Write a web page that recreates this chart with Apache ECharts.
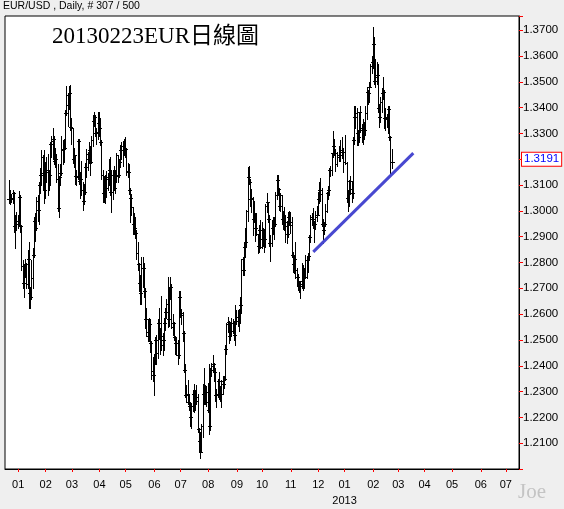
<!DOCTYPE html>
<html><head><meta charset="utf-8">
<script src="https://cdn.jsdelivr.net/npm/echarts@6/dist/echarts.min.js"></script>
<style>html,body{margin:0;padding:0;background:#efefef;}#c{width:564px;height:509px;}</style>
</head><body><div id="c"></div>
<script>
// ---- axis / labels ----
const axisStart = '2011-12-19', axisEnd = '2013-07-15', firstBar = '2011-12-22';
const yMin = 1.20, yMax = 1.3755, yStep = 0.01;
const headerText = 'EUR/USD , Daily, # 307 / 500';
const titleText = '20130223EUR日線圖';
const lastPrice = 1.3191;
const trendLine = [['2012-11-27', 1.2841], ['2013-03-19', 1.3224]];

// ---- daily OHLC [open, high, low, close], weekdays in order, null = no bar ----
const d2011_12 = [[1.3045,1.3118,1.3030,1.3047],[1.3047,1.3080,1.3025,1.3045],[1.3045,1.3065,1.3035,1.3050],[1.3050,1.3080,1.3030,1.3070],[1.3070,1.3075,1.2920,1.2940],[1.2940,1.2985,1.2858,1.2950],[1.2950,1.2995,1.2925,1.2960]];
const d2012_01 = [[1.2960,1.2985,1.2935,1.2950],[1.2950,1.3077,1.2945,1.3055],[1.3055,1.3060,1.2920,1.2940],[1.2940,1.2945,1.2770,1.2785],[1.2785,1.2810,1.2700,1.2720],[1.2720,1.2795,1.2665,1.2765],[1.2765,1.2815,1.2745,1.2795],[1.2795,1.2800,1.2700,1.2715],[1.2715,1.2850,1.2700,1.2815],[1.2815,1.2880,1.2624,1.2680],[1.2680,1.2705,1.2625,1.2665],[1.2665,1.2810,1.2660,1.2740],[1.2740,1.2855,1.2700,1.2830],[1.2830,1.2975,1.2820,1.2960],[1.2960,1.2990,1.2885,1.2935],[1.2935,1.3055,1.2925,1.3040],[1.3040,1.3060,1.2960,1.3005],[1.3005,1.3110,1.2950,1.3100],[1.3100,1.3165,1.3070,1.3140],[1.3140,1.3235,1.3100,1.3210],[1.3210,1.3215,1.3080,1.3145],[1.3145,1.3235,1.3030,1.3080]];
const d2012_02 = [[1.3080,1.3190,1.3050,1.3160],[1.3160,1.3210,1.3110,1.3150],[1.3150,1.3220,1.3060,1.3150],[1.3150,1.3160,1.3080,1.3140],[1.3140,1.3265,1.3100,1.3260],[1.3260,1.3290,1.3210,1.3270],[1.3270,1.3320,1.3200,1.3280],[1.3280,1.3290,1.3180,1.3195],[1.3195,1.3245,1.3170,1.3200],[1.3200,1.3220,1.3110,1.3125],[1.3125,1.3180,1.3000,1.3010],[1.3010,1.3135,1.2975,1.3130],[1.3130,1.3180,1.3100,1.3145],[1.3145,1.3290,1.3140,1.3235],[1.3235,1.3275,1.3180,1.3240],[1.3240,1.3280,1.3190,1.3245],[1.3245,1.3390,1.3240,1.3380],[1.3380,1.3485,1.3370,1.3450],[1.3450,1.3455,1.3330,1.3410],[1.3410,1.3485,1.3395,1.3455],[1.3455,1.3486,1.3315,1.3325]];
const d2012_03 = [[1.3325,1.3360,1.3260,1.3320],[1.3320,1.3320,1.3185,1.3200],[1.3200,1.3245,1.3170,1.3215],[1.3215,1.3215,1.3105,1.3135],[1.3135,1.3160,1.3100,1.3130],[1.3130,1.3280,1.3125,1.3270],[1.3270,1.3280,1.3105,1.3115],[1.3115,1.3150,1.3050,1.3125],[1.3125,1.3195,1.3060,1.3080],[1.3080,1.3110,1.3003,1.3040],[1.3040,1.3105,1.3025,1.3075],[1.3075,1.3185,1.3065,1.3170],[1.3170,1.3240,1.3130,1.3220],[1.3220,1.3230,1.3160,1.3200],[1.3200,1.3265,1.3185,1.3235],[1.3235,1.3250,1.3140,1.3190],[1.3190,1.3290,1.3185,1.3275],[1.3275,1.3370,1.3250,1.3350],[1.3350,1.3385,1.3330,1.3365],[1.3365,1.3370,1.3290,1.3300],[1.3300,1.3320,1.3260,1.3305],[1.3305,1.3385,1.3280,1.3340]];
const d2012_04 = [[1.3340,1.3385,1.3290,1.3320],[1.3320,1.3360,1.3255,1.3265],[1.3265,1.3275,1.3125,1.3140],[1.3140,1.3160,1.3035,1.3070],[1.3070,1.3135,1.3035,1.3100],[1.3100,1.3140,1.3030,1.3125],[1.3125,1.3155,1.3055,1.3090],[1.3090,1.3145,1.3080,1.3130],[1.3130,1.3200,1.3100,1.3160],[1.3160,1.3210,1.3060,1.3075],[1.3075,1.3160,1.2995,1.3140],[1.3140,1.3160,1.3045,1.3140],[1.3140,1.3175,1.3080,1.3090],[1.3090,1.3160,1.3070,1.3135],[1.3135,1.3225,1.3110,1.3215],[1.3215,1.3215,1.3110,1.3140],[1.3140,1.3200,1.3130,1.3190],[1.3190,1.3255,1.3170,1.3235],[1.3235,1.3265,1.3200,1.3250],[1.3250,1.3270,1.3175,1.3250],[1.3250,1.3280,1.3215,1.3240]];
const d2012_05 = [[1.3240,1.3285,1.3210,1.3240],[1.3240,1.3245,1.3140,1.3155],[1.3155,1.3185,1.3130,1.3150],[1.3150,1.3180,1.3065,1.3080],[1.3080,1.3090,1.2955,1.3050],[1.3050,1.3065,1.2985,1.3015],[1.3015,1.3015,1.2910,1.2950],[1.2950,1.2990,1.2910,1.2935],[1.2935,1.2975,1.2895,1.2915],[1.2915,1.2925,1.2815,1.2835],[1.2835,1.2880,1.2770,1.2795],[1.2795,1.2800,1.2690,1.2720],[1.2720,1.2750,1.2640,1.2680],[1.2680,1.2820,1.2640,1.2780],[1.2780,1.2820,1.2705,1.2780],[1.2780,1.2800,1.2665,1.2690],[1.2690,1.2700,1.2545,1.2580],[1.2580,1.2625,1.2515,1.2530],[1.2530,1.2580,1.2495,1.2515],[1.2515,1.2585,1.2495,1.2560],[1.2560,1.2580,1.2455,1.2490],[1.2490,1.2495,1.2350,1.2380],[1.2380,1.2435,1.2340,1.2365]];
const d2012_06 = [[1.2365,1.2445,1.2288,1.2430],[1.2430,1.2510,1.2405,1.2500],[1.2500,1.2520,1.2405,1.2450],[1.2450,1.2580,1.2430,1.2565],[1.2565,1.2625,1.2505,1.2525],[1.2525,1.2545,1.2445,1.2515],[1.2515,1.2670,1.2460,1.2480],[1.2480,1.2525,1.2440,1.2500],[1.2500,1.2585,1.2460,1.2565],[1.2565,1.2625,1.2540,1.2610],[1.2610,1.2660,1.2585,1.2640],[1.2640,1.2745,1.2550,1.2580],[1.2580,1.2700,1.2555,1.2685],[1.2685,1.2745,1.2660,1.2705],[1.2705,1.2715,1.2545,1.2550],[1.2550,1.2600,1.2520,1.2565],[1.2565,1.2570,1.2500,1.2510],[1.2510,1.2515,1.2445,1.2490],[1.2490,1.2510,1.2440,1.2490],[1.2490,1.2500,1.2405,1.2440],[1.2440,1.2690,1.2430,1.2665]];
const d2012_07 = [[1.2665,1.2690,1.2590,1.2595],[1.2595,1.2620,1.2560,1.2605],[1.2605,1.2610,1.2495,1.2525],[1.2525,1.2535,1.2375,1.2385],[1.2385,1.2405,1.2280,1.2285],[1.2285,1.2325,1.2260,1.2290],[1.2290,1.2345,1.2250,1.2260],[1.2260,1.2290,1.2230,1.2245],[1.2245,1.2260,1.2165,1.2200],[1.2200,1.2255,1.2160,1.2245],[1.2245,1.2305,1.2225,1.2290],[1.2290,1.2330,1.2220,1.2300],[1.2300,1.2305,1.2230,1.2265],[1.2265,1.2325,1.2250,1.2280],[1.2280,1.2290,1.2145,1.2155],[1.2155,1.2160,1.2065,1.2110],[1.2110,1.2145,1.2042,1.2065],[1.2065,1.2175,1.2065,1.2165],[1.2165,1.2330,1.2125,1.2290],[1.2290,1.2390,1.2250,1.2310],[1.2310,1.2325,1.2250,1.2260],[1.2260,1.2320,1.2245,1.2300]];
const d2012_08 = [[1.2300,1.2335,1.2220,1.2230],[1.2230,1.2405,1.2135,1.2165],[1.2165,1.2390,1.2150,1.2385],[1.2385,1.2410,1.2360,1.2400],[1.2400,1.2440,1.2375,1.2405],[1.2405,1.2410,1.2340,1.2375],[1.2375,1.2390,1.2265,1.2285],[1.2285,1.2310,1.2240,1.2290],[1.2290,1.2350,1.2280,1.2340],[1.2340,1.2375,1.2270,1.2280],[1.2280,1.2320,1.2265,1.2290],[1.2290,1.2345,1.2240,1.2340],[1.2340,1.2360,1.2290,1.2330],[1.2330,1.2360,1.2315,1.2350],[1.2350,1.2480,1.2345,1.2465],[1.2465,1.2565,1.2445,1.2560],[1.2560,1.2590,1.2530,1.2570],[1.2570,1.2575,1.2490,1.2515],[1.2515,1.2560,1.2500,1.2565],[1.2565,1.2585,1.2515,1.2565],[1.2565,1.2580,1.2525,1.2535],[1.2535,1.2570,1.2500,1.2520],[1.2520,1.2635,1.2480,1.2575]];
const d2012_09 = [[1.2575,1.2615,1.2560,1.2590],[1.2590,1.2615,1.2555,1.2575],[1.2575,1.2620,1.2535,1.2605],[1.2605,1.2665,1.2565,1.2635],[1.2635,1.2815,1.2610,1.2815],[1.2815,1.2820,1.2750,1.2770],[1.2770,1.2875,1.2750,1.2860],[1.2860,1.2935,1.2820,1.2880],[1.2880,1.3005,1.2860,1.3000],[1.3000,1.3170,1.2960,1.3130],[1.3130,1.3172,1.3105,1.3110],[1.3110,1.3125,1.3020,1.3045],[1.3045,1.3085,1.2995,1.3050],[1.3050,1.3055,1.2905,1.2970],[1.2970,1.3040,1.2955,1.2980],[1.2980,1.2990,1.2885,1.2935],[1.2935,1.2990,1.2905,1.2910],[1.2910,1.2910,1.2835,1.2865],[1.2865,1.2945,1.2840,1.2925],[1.2925,1.2965,1.2855,1.2860]];
const d2012_10 = [[1.2860,1.2955,1.2855,1.2890],[1.2890,1.2935,1.2865,1.2900],[1.2900,1.2930,1.2840,1.2890],[1.2890,1.3025,1.2860,1.3020],[1.3020,1.3070,1.2995,1.3035],[1.3035,1.3035,1.2955,1.2970],[1.2970,1.2985,1.2865,1.2875],[1.2875,1.2905,1.2805,1.2875],[1.2875,1.2965,1.2865,1.2935],[1.2935,1.2975,1.2910,1.2955],[1.2955,1.2975,1.2890,1.2950],[1.2950,1.3075,1.2940,1.3060],[1.3060,1.3140,1.3045,1.3120],[1.3120,1.3140,1.3060,1.3085],[1.3085,1.3090,1.3005,1.3020],[1.3020,1.3070,1.3000,1.3060],[1.3060,1.3060,1.2950,1.2970],[1.2970,1.3000,1.2930,1.2980],[1.2980,1.3015,1.2925,1.2955],[1.2955,1.2985,1.2880,1.2940],[1.2940,1.2960,1.2875,1.2910],[1.2910,1.2995,1.2900,1.2975],[1.2975,1.3000,1.2945,1.2955]];
const d2012_11 = [[1.2955,1.2995,1.2915,1.2945],[1.2945,1.2975,1.2820,1.2830],[1.2830,1.2840,1.2765,1.2795],[1.2795,1.2830,1.2760,1.2815],[1.2815,1.2880,1.2740,1.2770],[1.2770,1.2780,1.2710,1.2745],[1.2745,1.2755,1.2695,1.2710],[1.2710,1.2730,1.2685,1.2710],[1.2710,1.2730,1.2661,1.2715],[1.2715,1.2800,1.2700,1.2730],[1.2730,1.2790,1.2695,1.2770],[1.2770,1.2780,1.2700,1.2745],[1.2745,1.2830,1.2740,1.2810],[1.2810,1.2825,1.2740,1.2810],[1.2810,1.2835,1.2765,1.2825],[1.2825,1.2905,1.2815,1.2900],[1.2900,1.2985,1.2880,1.2975],[1.2975,1.2990,1.2945,1.2970],[1.2970,1.3010,1.2935,1.2950],[1.2950,1.2960,1.2880,1.2950],[1.2950,1.3000,1.2930,1.2975],[1.2975,1.3020,1.2960,1.2985]];
const d2012_12 = [[1.2985,1.3075,1.2985,1.3045],[1.3045,1.3110,1.3030,1.3080],[1.3080,1.3128,1.3040,1.3065],[1.3065,1.3090,1.2940,1.2950],[1.2950,1.2970,1.2875,1.2925],[1.2925,1.2955,1.2910,1.2950],[1.2950,1.3025,1.2940,1.3000],[1.3000,1.3075,1.2995,1.3070],[1.3070,1.3095,1.3045,1.3080],[1.3080,1.3165,1.3060,1.3160],[1.3160,1.3175,1.3135,1.3160],[1.3160,1.3225,1.3140,1.3225],[1.3225,1.3308,1.3210,1.3250],[1.3250,1.3280,1.3215,1.3225],[1.3225,1.3240,1.3155,1.3180],[1.3180,1.3230,1.3175,1.3210],null,[1.3210,1.3250,1.3195,1.3215],[1.3215,1.3275,1.3195,1.3235],[1.3235,1.3285,1.3205,1.3230],[1.3230,1.3245,1.3150,1.3190]];
const d2013_01 = [null,[1.3190,1.3293,1.3180,1.3185],[1.3185,1.3190,1.3035,1.3050],[1.3050,1.3080,1.2998,1.3070],[1.3070,1.3120,1.3020,1.3115],[1.3115,1.3135,1.3065,1.3085],[1.3085,1.3115,1.3035,1.3070],[1.3070,1.3285,1.3050,1.3275],[1.3275,1.3405,1.3260,1.3365],[1.3365,1.3405,1.3320,1.3380],[1.3380,1.3400,1.3255,1.3300],[1.3300,1.3315,1.3255,1.3285],[1.3285,1.3385,1.3265,1.3385],[1.3385,1.3405,1.3305,1.3315],[1.3315,1.3335,1.3265,1.3320],[1.3320,1.3355,1.3260,1.3325],[1.3325,1.3345,1.3280,1.3315],[1.3315,1.3405,1.3295,1.3380],[1.3380,1.3480,1.3355,1.3460],[1.3460,1.3470,1.3415,1.3455],[1.3455,1.3500,1.3420,1.3480],[1.3480,1.3570,1.3480,1.3560],[1.3560,1.3600,1.3535,1.3575]];
const d2013_02 = [[1.3575,1.3711,1.3555,1.3645],[1.3645,1.3675,1.3490,1.3505],[1.3505,1.3590,1.3480,1.3520],[1.3520,1.3575,1.3490,1.3525],[1.3525,1.3570,1.3385,1.3400],[1.3400,1.3415,1.3325,1.3365],[1.3365,1.3440,1.3345,1.3420],[1.3420,1.3475,1.3385,1.3455],[1.3455,1.3520,1.3435,1.3460],[1.3460,1.3470,1.3320,1.3360],[1.3360,1.3400,1.3315,1.3365],[1.3365,1.3375,1.3325,1.3355],[1.3355,1.3405,1.3300,1.3395],[1.3395,1.3405,1.3275,1.3285],[1.3285,1.3290,1.3145,1.3190],[1.3190,1.3240,1.3165,1.3191]];

// ---- build categories (weekdays) ----
function weekdays(a, b) {
  const out = []; let t = Date.parse(a + 'T00:00:00Z'); const e = Date.parse(b + 'T00:00:00Z');
  while (t <= e) { const w = new Date(t).getUTCDay(); if (w > 0 && w < 6) out.push(new Date(t).toISOString().slice(0, 10)); t += 86400000; }
  return out;
}
const cats = weekdays(axisStart, axisEnd);
const monthStart = new Set();
cats.forEach((d, i) => { if (i > 0 && d.slice(5, 7) !== cats[i - 1].slice(5, 7)) monthStart.add(i); });

const rows = [].concat(d2011_12, d2012_01, d2012_02, d2012_03, d2012_04, d2012_05, d2012_06,
  d2012_07, d2012_08, d2012_09, d2012_10, d2012_11, d2012_12, d2013_01, d2013_02);
const off = cats.indexOf(firstBar);
const bars = [];
rows.forEach((r, i) => { if (r) bars.push([off + i, r[0], r[1], r[2], r[3]]); });
const trendData = trendLine.map(p => [cats.indexOf(p[0]), p[1]]);

function renderOHLC(params, api) {
  const i = api.value(0);
  const o = api.coord([i, api.value(1)]), h = api.coord([i, api.value(2)]);
  const l = api.coord([i, api.value(3)]), c = api.coord([i, api.value(4)]);
  const cx = Math.floor(h[0]);
  const yh = Math.round(h[1]), yl = Math.round(l[1]), yo = Math.round(o[1]), yc = Math.round(c[1]);
  const st = { fill: '#000' };
  return { type: 'group', children: [
    { type: 'rect', shape: { x: cx, y: yh, width: 1, height: Math.max(1, yl - yh + 1) }, style: st },
    { type: 'rect', shape: { x: cx - 2, y: yo, width: 2, height: 1 }, style: st },
    { type: 'rect', shape: { x: cx + 1, y: yc, width: 2, height: 1 }, style: st }
  ] };
}

const sans = '"Liberation Sans", Arial, sans-serif';
const chart = echarts.init(document.getElementById('c'), null, { renderer: 'canvas' });
chart.setOption({
  animation: false,
  backgroundColor: '#efefef',
  grid: { left: 5, right: 45, top: 16, bottom: 39, show: true, backgroundColor: '#fff', borderColor: '#000', borderWidth: 1 },
  xAxis: {
    type: 'category', data: cats, boundaryGap: true,
    axisLine: { lineStyle: { color: '#000', width: 1 } },
    axisTick: { show: true, alignWithLabel: true, length: 3, interval: (i) => monthStart.has(i), lineStyle: { color: '#ff0000' } },
    axisLabel: {
      interval: (i) => monthStart.has(i), margin: 8, color: '#000', fontSize: 11, fontFamily: sans, lineHeight: 16,
      formatter: (v) => { const m = v.slice(5, 7); return (m === '01' && v.slice(0, 4) === '2013') ? m + '\n2013' : m; }
    },
    splitLine: { show: false }
  },
  yAxis: {
    type: 'value', position: 'right', min: yMin, max: yMax, interval: yStep, scale: true,
    axisLine: { show: true, lineStyle: { color: '#000', width: 1 } },
    axisTick: { show: true, length: 4, lineStyle: { color: '#ff0000' } },
    axisLabel: {
      margin: 4, color: '#000', fontSize: 11.5, fontFamily: sans,
      formatter: (v) => { const k = v / yStep; return (Math.abs(k - Math.round(k)) < 1e-6 && v > yMin + 1e-6) ? v.toFixed(4) : ''; }
    },
    splitLine: { show: false }
  },
  graphic: [
    { type: 'text', left: 3, top: 1, style: { text: headerText, fontSize: 10.5, fontFamily: sans, fill: '#000' } },
    { type: 'text', left: 52, top: 25, z: 100, style: { text: titleText, fontSize: 23, fontFamily: '"Liberation Serif", "Noto Sans CJK TC", serif', fill: '#000' } },
    { type: 'text', left: 518, top: 482, style: { text: 'Joe', fontSize: 21, fontFamily: '"Liberation Serif", serif', fill: '#c4c4c4' } }
  ],
  series: [
    { type: 'custom', name: 'EUR/USD', data: bars, renderItem: renderOHLC, encode: { x: 0, y: [1, 2, 3, 4] }, clip: true, silent: true },
    {
      type: 'line', name: 'trend', data: trendData, symbol: 'none', silent: true, z: 5,
      lineStyle: { color: '#4848d0', width: 3, cap: 'butt' },
      markLine: {
        silent: true, symbol: ['none', 'none'], animation: false,
        lineStyle: { color: 'rgba(0,0,0,0)', width: 1, type: 'solid' },
        data: [{ yAxis: lastPrice }],
        label: { show: true, position: 'end', distance: 3, formatter: lastPrice.toFixed(4), color: '#0000ff', fontSize: 11.5, fontFamily: sans,
          backgroundColor: '#fff', borderColor: '#ff0000', borderWidth: 1, padding: [1, 2, 0, 2] }
      }
    }
  ]
});
</script></body></html>
